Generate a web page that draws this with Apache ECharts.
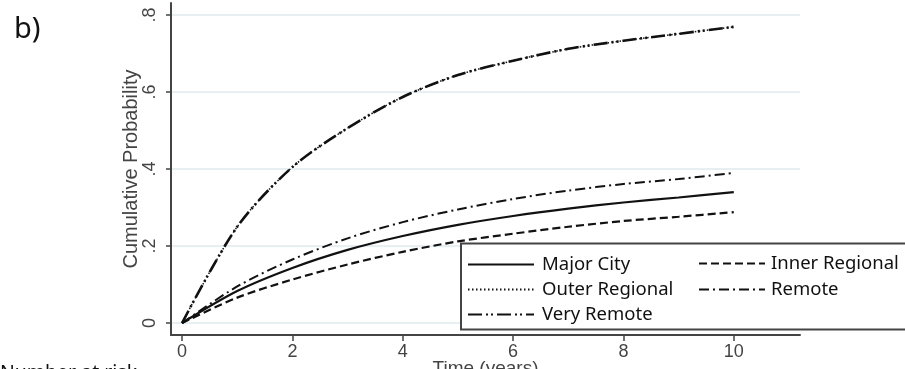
<!DOCTYPE html>
<html>
<head>
<meta charset="utf-8">
<script src="https://cdn.jsdelivr.net/npm/echarts@6/dist/echarts.min.js"></script>
<style>
  html, body { margin: 0; padding: 0; background: #fff; }
  #chart { width: 905px; height: 369px; }
</style>
</head>
<body>
<div id="chart"></div>
<script>
let myChart = echarts.init(document.getElementById("chart"));

// time in years
let years = [0, 1, 2, 3, 4, 5, 6, 7, 8, 9, 10];
// cumulative probability per remoteness area
let majorCity     = [0, 0.083, 0.143, 0.19, 0.226, 0.255, 0.278, 0.297, 0.313, 0.326, 0.34];
let innerRegional = [0, 0.066, 0.113, 0.152, 0.185, 0.212, 0.232, 0.25, 0.265, 0.276, 0.288];
let outerRegional = [0, 0.25, 0.405, 0.506, 0.587, 0.644, 0.681, 0.712, 0.733, 0.751, 0.769];
let remote        = [0, 0.095, 0.165, 0.22, 0.262, 0.295, 0.322, 0.344, 0.361, 0.374, 0.39];
let veryRemote    = [0, 0.25, 0.405, 0.506, 0.587, 0.644, 0.681, 0.712, 0.733, 0.751, 0.769];

let xTicks = [0, 2, 4, 6, 8, 10];
let yTicks = [0, 0.2, 0.4, 0.6, 0.8];

function pairs(vals) {
  return years.map((t, i) => [t, vals[i]]);
}

function line(name, vals, type, width) {
  return {
    name: name,
    type: "line",
    data: pairs(vals),
    smooth: 0.3,
    symbol: "none",
    z: 2,
    lineStyle: { color: "#111", width: width, type: type },
    itemStyle: { color: "rgba(0,0,0,0)", borderWidth: 0 },
  };
}

let legendText = {
  fontFamily: "Noto Sans",
  fontSize: 18.5,
  color: "#111",
  lineHeight: 25,
  padding: [0, 0, 0, 3],
};

let option = {
  animation: false,
  grid: { left: 171, right: 105, top: 3, bottom: 34, outerBoundsMode: "none", containLabel: false },
  xAxis: {
    type: "value",
    min: -0.2,
    max: 11.2,
    name: "Time (years)",
    nameLocation: "middle",
    nameGap: 24,
    nameMoveOverlap: false,
    nameTextStyle: { fontFamily: "Liberation Sans", fontSize: 19, color: "#444" },
    axisLine: { show: true, onZero: false, lineStyle: { color: "#444", width: 2 } },
    axisTick: { show: true, length: 6, customValues: xTicks, lineStyle: { color: "#444", width: 1.5 } },
    axisLabel: {
      customValues: xTicks,
      margin: 8,
      fontFamily: "Liberation Sans",
      fontSize: 18,
      color: "#444",
    },
    splitLine: { show: false },
  },
  yAxis: {
    type: "value",
    min: -0.031,
    max: 0.831,
    axisLine: { show: true, onZero: false, lineStyle: { color: "#444", width: 2 } },
    axisTick: { show: true, length: 5, customValues: yTicks, lineStyle: { color: "#444", width: 1.5 } },
    axisLabel: {
      customValues: yTicks,
      rotate: 90,
      margin: 12,
      fontFamily: "Liberation Sans",
      fontSize: 18,
      color: "#444",
      formatter: (v) => (v === 0 ? "0" : String(v).replace("0.", ".")),
    },
    splitLine: { show: true, lineStyle: { color: "#e6eff2", width: 2 } },
  },
  legend: [
    {
      orient: "vertical",
      left: 462,
      top: 247,
      itemWidth: 66,
      itemHeight: 14,
      itemGap: 0,
      itemStyle: { color: "rgba(0,0,0,0)", borderWidth: 0 },
      textStyle: legendText,
      data: ["Major City", "Outer Regional", "Very Remote"],
      z: 5,
    },
    {
      orient: "vertical",
      left: 693,
      top: 246,
      itemWidth: 66,
      itemHeight: 14,
      itemGap: 1,
      itemStyle: { color: "rgba(0,0,0,0)", borderWidth: 0 },
      textStyle: Object.assign({}, legendText, { padding: [0, 0, 0, 1] }),
      data: ["Inner Regional", "Remote"],
      z: 5,
    },
  ],
  graphic: [
    {
      type: "rect",
      z: 3,
      shape: { x: 461, y: 243.5, width: 460, height: 86 },
      style: { fill: "#fff", stroke: "#444", lineWidth: 2 },
    },
    {
      type: "text",
      x: 14,
      y: 30,
      style: { text: "b)", font: "29px 'Noto Sans'", fill: "#111", textVerticalAlign: "middle" },
    },
    {
      type: "text",
      x: 131,
      y: 169,
      rotation: Math.PI / 2,
      style: {
        text: "Cumulative Probability",
        font: "20px 'Liberation Sans'",
        fill: "#444",
        textAlign: "center",
        textVerticalAlign: "middle",
      },
    },
    {
      type: "text",
      x: 0,
      y: 373,
      style: { text: "Number at risk", font: "19.5px 'Noto Sans'", fill: "#111", textVerticalAlign: "middle" },
    },
  ],
  series: [
    line("Major City", majorCity, "solid", 2.2),
    line("Inner Regional", innerRegional, [8, 4], 2.2),
    line("Outer Regional", outerRegional, [1.5, 2.5], 1.5),
    line("Remote", remote, [10, 4, 2, 4], 2),
    line("Very Remote", veryRemote, [14, 4, 2, 3, 2, 4], 2.6),
  ],
};

myChart.setOption(option);
</script>
</body>
</html>
